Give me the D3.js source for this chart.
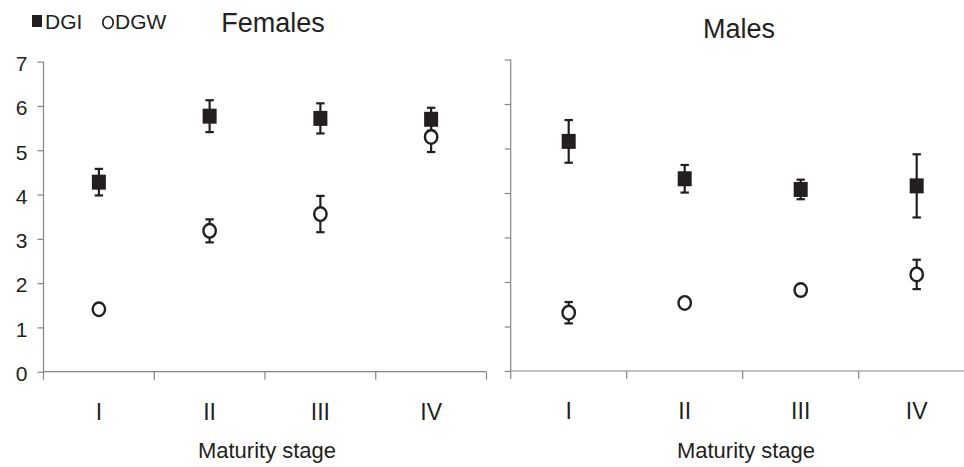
<!DOCTYPE html>
<html><head><meta charset="utf-8">
<script src="https://cdn.jsdelivr.net/npm/d3@7"></script>
<style>
html,body{margin:0;padding:0;background:#fff;}
svg{display:block;}
text{font-family:"Liberation Sans", Arial, sans-serif; fill:#231f20;}
</style></head>
<body>
<svg id="chart" width="964" height="467"></svg>
<script>
const stages = ["I","II","III","IV"];
const yTicks = [0,1,2,3,4,5,6,7];
const femalesDGI = [4.28, 5.77, 5.72, 5.70];
const femalesDGIerr = [0.30, 0.36, 0.34, 0.26];
const femalesDGW = [1.41, 3.18, 3.56, 5.30];
const femalesDGWerr = [0.08, 0.26, 0.41, 0.34];
const malesDGI = [5.16, 4.32, 4.08, 4.16];
const malesDGIerr = [0.48, 0.31, 0.22, 0.71];
const malesDGW = [1.31, 1.53, 1.82, 2.17];
const malesDGWerr = [0.24, 0.08, 0.07, 0.33];
const panelTitles = ["Females", "Males"];
const legendLabels = ["DGI", "DGW"];
const xTitle = "Maturity stage";

const svg = d3.select("#chart");
const ink = "#231f20";
const axisCol = "#858585";

const panels = [
  {title: panelTitles[0], dgi: femalesDGI, dgiE: femalesDGIerr, dgw: femalesDGW, dgwE: femalesDGWerr,
   xr: [43.5, 486.5], yr: [371.7, 61.7], labels: true, tx: 273, ty: 31.5, xt: 267},
  {title: panelTitles[1], dgi: malesDGI, dgiE: malesDGIerr, dgw: malesDGW, dgwE: malesDGWerr,
   xr: [510.7, 974.7], yr: [371, 59.5], labels: false, tx: 739, ty: 38, xt: 746}
];

panels.forEach(p => {
  const x = d3.scaleBand().domain(stages).range(p.xr).padding(0);
  const y = d3.scaleLinear().domain([0, 7]).range(p.yr);
  const g = svg.append("g");

  const yAx = g.append("g").attr("transform", `translate(${p.xr[0]},0)`)
    .call(d3.axisLeft(y).tickValues(yTicks).tickSize(6).tickFormat(p.labels ? d3.format("d") : () => ""));
  yAx.select(".domain").attr("stroke", axisCol).attr("stroke-width", 1.2).attr("d", `M0,${p.yr[1]}V${p.yr[0]}`);
  yAx.selectAll(".tick line").attr("stroke", axisCol).attr("stroke-width", 1.2);
  yAx.selectAll(".tick text").attr("font-size", 21).attr("x", -16).attr("dy", "0.42em")
     .attr("fill", ink).attr("font-family", "Liberation Sans, Arial, sans-serif");

  const xAx = g.append("g").attr("transform", `translate(0,${p.yr[0]})`);
  xAx.append("line").attr("x1", p.xr[0]).attr("x2", p.xr[1]).attr("y1", 0).attr("y2", 0)
     .attr("stroke", axisCol).attr("stroke-width", 1.2);
  const bounds = stages.map(s => x(s)).concat([x(stages[3]) + x.bandwidth()]);
  xAx.selectAll("line.b").data(bounds).join("line").attr("class", "b")
     .attr("x1", d => d).attr("x2", d => d).attr("y1", 0).attr("y2", 8)
     .attr("stroke", axisCol).attr("stroke-width", 1.2);
  xAx.selectAll("text.cat").data(stages).join("text").attr("class", "cat")
     .attr("x", d => x(d) + x.bandwidth() / 2).attr("y", 48)
     .attr("text-anchor", "middle").attr("font-size", 23).text(d => d);

  g.append("text").attr("x", p.xt).attr("y", 458).attr("text-anchor", "middle")
   .attr("font-size", 22).text(xTitle);
  g.append("text").attr("x", p.tx).attr("y", p.ty).attr("text-anchor", "middle")
   .attr("font-size", 27).text(p.title);

  const cx = d => x(d) + x.bandwidth() / 2;
  const drawErr = (vals, errs) => {
    stages.forEach((s, i) => {
      const top = y(vals[i] + errs[i]), bot = y(vals[i] - errs[i]);
      g.append("line").attr("x1", cx(s)).attr("x2", cx(s)).attr("y1", top).attr("y2", bot)
       .attr("stroke", ink).attr("stroke-width", 2.2);
      [top, bot].forEach(yy => g.append("line").attr("x1", cx(s) - 4.2).attr("x2", cx(s) + 4.2)
        .attr("y1", yy).attr("y2", yy).attr("stroke", ink).attr("stroke-width", 2.2));
    });
  };
  drawErr(p.dgi, p.dgiE);
  drawErr(p.dgw, p.dgwE);
  g.selectAll("rect.dgi").data(stages).join("rect").attr("class", "dgi")
   .attr("x", d => cx(d) - 7).attr("y", (d, i) => y(p.dgi[i]) - 7.5)
   .attr("width", 14).attr("height", 15).attr("fill", ink);
  g.selectAll("ellipse.dgw").data(stages).join("ellipse").attr("class", "dgw")
   .attr("cx", d => cx(d)).attr("cy", (d, i) => y(p.dgw[i]))
   .attr("rx", 6.2).attr("ry", 6.8).attr("fill", "#fff").attr("stroke", ink).attr("stroke-width", 2.4);
});

// legend
const lg = svg.append("g");
lg.append("rect").attr("x", 32).attr("y", 15).attr("width", 10).attr("height", 12).attr("fill", ink);
lg.append("text").attr("x", 45).attr("y", 28.5).attr("font-size", 21).text(legendLabels[0]);
lg.append("ellipse").attr("cx", 108).attr("cy", 22.5).attr("rx", 5.2).attr("ry", 6)
  .attr("fill", "#fff").attr("stroke", ink).attr("stroke-width", 1.7);
lg.append("text").attr("x", 115).attr("y", 28.5).attr("font-size", 21).text(legendLabels[1]);
</script>
</body></html>
